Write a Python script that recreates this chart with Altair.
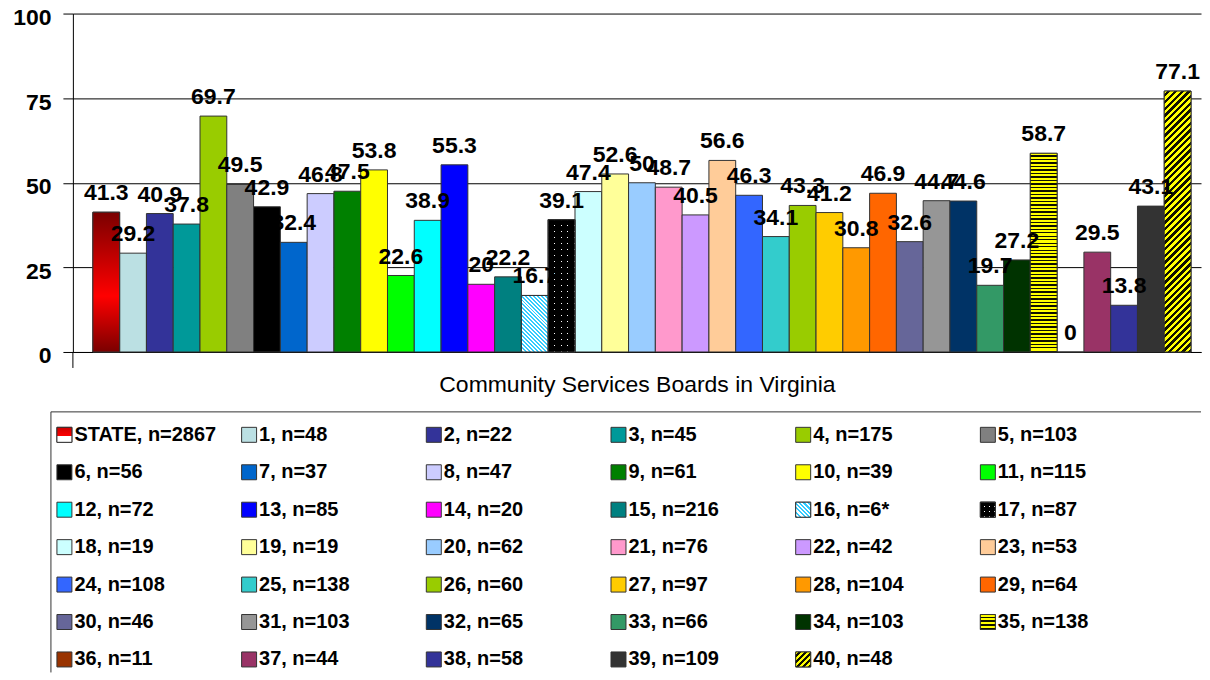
import altair as alt
import pandas as pd

# ---------------- data ----------------
boards = ["STATE"] + [str(i) for i in range(1, 41)]
values = [41.3, 29.2, 40.9, 37.8, 69.7, 49.5, 42.9, 32.4, 46.8, 47.5, 53.8,
          22.6, 38.9, 55.3, 20, 22.2, 16.7, 39.1, 47.4, 52.6, 50, 48.7, 40.5,
          56.6, 46.3, 34.1, 43.3, 41.2, 30.8, 46.9, 32.6, 44.7, 44.6, 19.7,
          27.2, 58.7, 0, 29.5, 13.8, 43.1, 77.1]
legend_labels = ["STATE, n=2867", "1, n=48", "2, n=22", "3, n=45", "4, n=175",
                 "5, n=103", "6, n=56", "7, n=37", "8, n=47", "9, n=61",
                 "10, n=39", "11, n=115", "12, n=72", "13, n=85", "14, n=20",
                 "15, n=216", "16, n=6*", "17, n=87", "18, n=19", "19, n=19",
                 "20, n=62", "21, n=76", "22, n=42", "23, n=53", "24, n=108",
                 "25, n=138", "26, n=60", "27, n=97", "28, n=104", "29, n=64",
                 "30, n=46", "31, n=103", "32, n=65", "33, n=66", "34, n=103",
                 "35, n=138", "36, n=11", "37, n=44", "38, n=58", "39, n=109",
                 "40, n=48"]
colors = ["#C00000", "#BBE0E3", "#333399", "#009999", "#99CC00", "#808080",
          "#000000", "#0066CC", "#CCCCFF", "#008000", "#FFFF00", "#00FF00",
          "#00FFFF", "#0000FF", "#FF00FF", "#008080", "#33CCFF", "#000000",
          "#CCFFFF", "#FFFF99", "#99CCFF", "#FF99CC", "#CC99FF", "#FFCC99",
          "#3366FF", "#33CCCC", "#99CC00", "#FFCC00", "#FF9900", "#FF6600",
          "#666699", "#969696", "#003366", "#339966", "#003300", "#FFFF00",
          "#993300", "#993366", "#333399", "#333333", "#FFFF00"]

# ---------------- layout / style ----------------
W, H = 1130, 339
LH = 261
STEP = 1100 / 41
FONT = "Liberation Sans"
EDGE = "#333333"
CLEAR = "rgba(0,0,0,0)"


def stripes(c1, c2, n, f1, x1, y1, x2, y2):
    stops = []
    for i in range(n):
        s, m, e = i / n, (i + f1) / n, (i + 1) / n
        stops += [{"offset": round(s, 5), "color": c1},
                  {"offset": round(m, 5), "color": c1},
                  {"offset": round(m, 5), "color": c2},
                  {"offset": round(min(e, 1), 5), "color": c2}]
    return {"gradient": "linear", "x1": x1, "y1": y1, "x2": x2, "y2": y2,
            "stops": stops}


def diag(w, h, slash):
    r = w / h
    b = (r + 1) / (r * r + 1)
    a = r * b
    if slash:
        return (0, 0, round(a, 5), round(b, 5))
    return (0, 1, round(a, 5), round(1 - b, 5))


def hgt(board):
    return values[boards.index(board)] / 100 * H


state_grad = {"gradient": "linear", "x1": 0, "y1": 0, "x2": 0, "y2": 1,
              "stops": [{"offset": 0, "color": "#7A0000"},
                        {"offset": 0.6, "color": "#FF0000"},
                        {"offset": 1, "color": "#7A0000"}]}
g16 = stripes("#33CCFF", "#FFFFFF", 21, 0.5, *diag(STEP, hgt("16"), False))
g17a = stripes("#000000", "#FFFFFF", 22, 0.83, 0, 0, 0, 1)
g17b = stripes("#000000", CLEAR, 4, 0.85, 0, 0, 1, 0)
g35 = stripes("#FFFF00", "#111100", 57, 0.6, 0, 0, 0, 1)
g40 = stripes("#FFFF00", "#111100", 43, 0.5, *diag(STEP, hgt("40"), True))

# ---------------- main chart ----------------
df = pd.DataFrame({"board": boards, "value": values})

x_enc = alt.X("board:N", sort=boards,
              scale=alt.Scale(paddingInner=0, paddingOuter=0.559, align=0.667),
              axis=alt.Axis(labels=False, ticks=False, domain=True,
                            domainColor="black", domainWidth=1,
                            title="Community Services Boards in Virginia",
                            titleFontSize=23, titleFontWeight="normal",
                            titleColor="black", titlePadding=22, titleFont=FONT))
y_enc = alt.Y("value:Q", scale=alt.Scale(domain=[0, 100], nice=False),
              axis=alt.Axis(values=[0, 25, 50, 75, 100], grid=True,
                            gridColor="black", gridWidth=1, gridOpacity=1,
                            domainColor="black", domainWidth=1,
                            tickColor="black", tickSize=10, tickWidth=1,
                            labelFontSize=23, labelFontWeight="bold",
                            labelColor="black", labelPadding=12,
                            labelBaseline="alphabetic", labelOffset=11,
                            labelFont=FONT, title=None))

base = alt.Chart(df).encode(x=x_enc, y=y_enc)
bars = base.mark_bar(stroke=EDGE, strokeWidth=1).encode(
    color=alt.Color("board:N", scale=alt.Scale(domain=boards, range=colors),
                    legend=None))


def overlay(b, grad):
    return base.transform_filter(alt.datum.board == b).mark_bar(
        color=grad, stroke=EDGE, strokeWidth=1)


ovs = [overlay("STATE", state_grad), overlay("16", g16), overlay("17", g17a),
       overlay("17", g17b), overlay("35", g35), overlay("40", g40)]

labels = base.mark_text(fontSize=23, fontWeight="bold", baseline="alphabetic",
                        dy=-12, color="black", font=FONT).encode(
    text=alt.Text("value:Q", format=".1~f"))

dummy = pd.DataFrame({"k": [0]})
ext = alt.Chart(dummy).mark_rule(color="black", strokeWidth=1).encode(
    x=alt.value(0), y=alt.value(H), y2=alt.value(H + 16))

main = alt.layer(bars, *ovs, labels, ext).properties(width=W, height=H)

# ---------------- legend ----------------
leg = pd.DataFrame({"board": boards, "label": legend_labels,
                    "col": [i % 6 for i in range(len(boards))],
                    "row": [i // 6 for i in range(len(boards))]})
lx = alt.X("col:Q", scale=alt.Scale(domain=[0.0459, 6.154], nice=False,
                                    zero=False), axis=None)
ly = alt.Y("row:Q", scale=alt.Scale(domain=[-0.613, 6.347], nice=False,
                                    zero=False, reverse=True), axis=None)
lbase = alt.Chart(leg).encode(x=lx, y=ly)
sw = lbase.mark_square(size=225, opacity=1, stroke=EDGE, strokeWidth=1).encode(
    color=alt.Color("board:N", scale=alt.Scale(domain=boards, range=colors),
                    legend=None))

s_state = {"gradient": "linear", "x1": 0, "y1": 0, "x2": 0, "y2": 1,
           "stops": [{"offset": 0, "color": "#CC0000"},
                     {"offset": 0.6, "color": "#FF0000"},
                     {"offset": 0.6, "color": "#FFFFFF"},
                     {"offset": 1, "color": "#FFFFFF"}]}
s16 = stripes("#33CCFF", "#FFFFFF", 7, 0.5, *diag(1, 1, False))
s17a = stripes("#000000", "#FFFFFF", 3, 0.8, 0, 0, 0, 1)
s17b = stripes("#000000", CLEAR, 3, 0.75, 0, 0, 1, 0)
s35 = stripes("#FFFF00", "#111100", 4, 0.55, 0, 0, 0, 1)
s40 = stripes("#FFFF00", "#111100", 5, 0.5, *diag(1, 1, True))


def sw_ov(b, grad):
    return lbase.transform_filter(alt.datum.board == b).mark_square(
        size=225, opacity=1, color=grad, stroke=EDGE, strokeWidth=1)


sw_ovs = [sw_ov("STATE", s_state), sw_ov("16", s16), sw_ov("17", s17a),
          sw_ov("17", s17b), sw_ov("35", s35), sw_ov("40", s40)]

ltext = lbase.mark_text(align="left", baseline="middle", dx=10, fontSize=20,
                        fontWeight="bold", color="black", font=FONT).encode(
    text="label:N")

box_top = alt.Chart(dummy).mark_rule(color=EDGE, strokeWidth=1).encode(
    x=alt.value(-22), x2=alt.value(W), y=alt.value(0))
box_left = alt.Chart(dummy).mark_rule(color=EDGE, strokeWidth=1).encode(
    x=alt.value(-22), y=alt.value(0), y2=alt.value(LH))

legend = alt.layer(sw, *sw_ovs, ltext, box_top, box_left).properties(
    width=W, height=LH)

chart = alt.vconcat(main, legend, spacing=60, bounds="flush").resolve_scale(
    x="independent", y="independent"
).properties(
    padding={"left": 4, "top": -3, "right": 0, "bottom": 0}
).configure(font=FONT).configure_view(stroke="transparent")

chart.save("out.html", embed_options={"renderer": "svg", "actions": False})
